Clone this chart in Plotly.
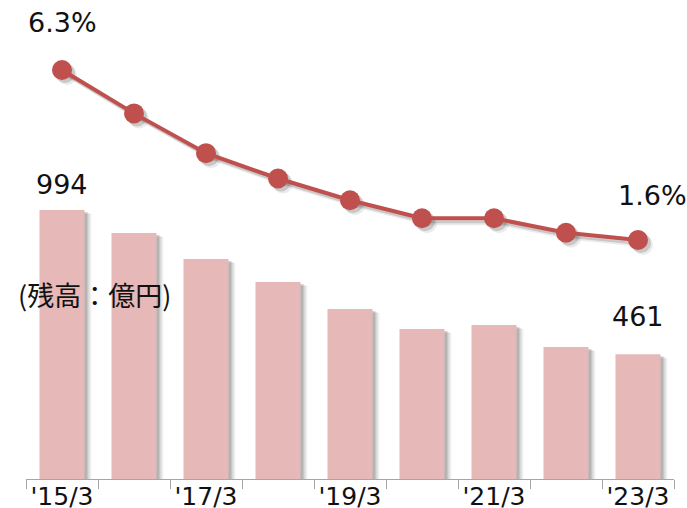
import plotly.graph_objects as go

# data
periods = ["'15/3", "'16/3", "'17/3", "'18/3", "'19/3", "'20/3", "'21/3", "'22/3", "'23/3"]
tick_labels = ["'15/3", "", "'17/3", "", "'19/3", "", "'21/3", "", "'23/3"]
balance = [994, 909, 813, 728, 628, 554, 569, 488, 461]      # 残高 (億円)
ratio = [6.3, 5.1, 4.0, 3.3, 2.7, 2.2, 2.2, 1.8, 1.6]          # %

BAR = "#E6B8B7"
LINE = "#C0504D"
FONT = "DejaVu Sans"

W, H = 687, 508
ML, MR, MT, MB = 26, 13, 0, 29
px_x = (W - ML - MR) / len(periods)          # pixels per category
Y1 = [0, 1770]
Y2 = [-5.008, 8.235]
px_y1 = (H - MT - MB) / (Y1[1] - Y1[0])
px_y2 = (H - MT - MB) / (Y2[1] - Y2[0])

xs = list(range(len(periods)))
bounds = [i - 0.5 for i in range(len(periods) + 1)]

fig = go.Figure()

# soft drop shadows (layers) behind bars
for dx, dy, a in [(7, 4, 0.06), (5, 3, 0.1), (3, 2, 0.16)]:
    fig.add_trace(go.Bar(
        x=[v + dx / px_x for v in xs], y=balance, base=-dy / px_y1,
        width=0.625, marker=dict(color=f"rgba(0,0,0,{a})", line_width=0),
        hoverinfo="skip", showlegend=False))

fig.add_trace(go.Bar(x=xs, y=balance, width=0.625, name="残高",
                     marker=dict(color=BAR, line_width=0), showlegend=False))

# line shadow
for dx, dy, a in [(5, 5, 0.08), (3, 3, 0.15)]:
    fig.add_trace(go.Scatter(
        x=[v + dx / px_x for v in xs], y=[r - dy / px_y2 for r in ratio],
        xaxis="x2", yaxis="y2",
        mode="lines+markers", line=dict(color=f"rgba(0,0,0,{a})", width=4),
        marker=dict(size=20, color=f"rgba(0,0,0,{a})"),
        hoverinfo="skip", showlegend=False))

fig.add_trace(go.Scatter(x=xs, y=ratio, xaxis="x2", yaxis="y2", mode="lines+markers",
                         name="比率", line=dict(color=LINE, width=4),
                         marker=dict(size=20, color=LINE), showlegend=False))

ann = dict(showarrow=False, font=dict(family=FONT, size=27, color="#111"))
fig.add_annotation(x=xs[0], y=ratio[0], xref="x2", yref="y2", text=f"{ratio[0]}%", yshift=47, **ann)
fig.add_annotation(x=xs[-1], y=ratio[-1], xref="x2", yref="y2", text=f"{ratio[-1]}%",
                   xshift=14, yshift=44, **ann)
fig.add_annotation(x=xs[0], y=balance[0], text=str(balance[0]), yshift=26, **ann)
fig.add_annotation(x=xs[-1], y=balance[-1], text=str(balance[-1]), yshift=38, **ann)
fig.add_annotation(x=0.105, xref="paper", y=0.386, yref="paper", text="(残高：億円)",
                   xanchor="center", yanchor="middle", showarrow=False,
                   font=dict(family="Noto Sans CJK JP", size=27, color="#111"))

fig.update_layout(
    width=W, height=H, margin=dict(l=ML, r=MR, t=MT, b=MB, autoexpand=False),
    paper_bgcolor="white", plot_bgcolor="white", barmode="overlay",
    font=dict(family=FONT, size=27, color="#111"),
    xaxis=dict(range=[-0.5, len(periods) - 0.5], tickvals=bounds, ticktext=[""] * len(bounds),
               ticks="outside", ticklen=9, tickcolor="#A6A6A6", showline=True, automargin=False,
               linecolor="#A6A6A6", linewidth=1, showgrid=False, zeroline=False),
    xaxis2=dict(overlaying="x", anchor="y", side="bottom", range=[-0.5, len(periods) - 0.5],
                tickvals=xs, ticktext=tick_labels, ticks="", ticklen=0, automargin=False,
                showline=False, showgrid=False, zeroline=False,
                tickfont=dict(family=FONT, size=25, color="#111")),
    yaxis=dict(range=Y1, visible=False),
    yaxis2=dict(range=Y2, overlaying="y", visible=False),
)

fig.write_html("out.html", config={"displayModeBar": False},
               post_script="document.body.style.margin='0';")
